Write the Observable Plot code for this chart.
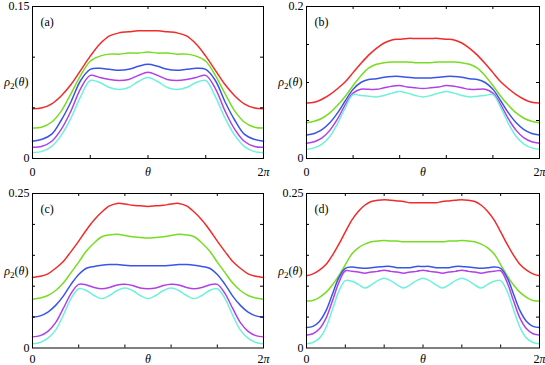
<!DOCTYPE html>
<html><head><meta charset="utf-8">
<script src="https://cdn.jsdelivr.net/npm/d3@7"></script>
<script src="https://cdn.jsdelivr.net/npm/@observablehq/plot@0.6"></script>
<style>
body{margin:0;background:#fff;}
#chart{position:relative;width:545px;height:365px;background:#fff;}
#chart svg{position:absolute;}
</style></head><body><div id="chart"></div>
<script>
const seriesNames = ["curve 1","curve 2","curve 3","curve 4","curve 5"];
const seriesColors = ["#f22a2a","#77dd22","#3a55e6","#b040e8","#6ff0dc"];

// Panel (a): theta from 0 to 2π, 25 samples
const a_red = [0.049,0.050,0.054,0.062,0.073,0.087,0.101,0.113,0.121,0.124,0.125,0.126,0.126,0.126,0.125,0.124,0.121,0.113,0.101,0.087,0.073,0.062,0.054,0.050,0.049];
const a_green = [0.030,0.031,0.036,0.047,0.064,0.082,0.096,0.101,0.103,0.103,0.104,0.104,0.105,0.104,0.104,0.103,0.103,0.101,0.096,0.082,0.064,0.047,0.036,0.031,0.030];
const a_blue = [0.017,0.019,0.024,0.038,0.056,0.077,0.088,0.089,0.088,0.087,0.088,0.091,0.093,0.091,0.088,0.087,0.088,0.089,0.088,0.077,0.056,0.038,0.024,0.019,0.017];
const a_magenta = [0.011,0.012,0.017,0.029,0.047,0.069,0.082,0.080,0.078,0.077,0.078,0.082,0.085,0.082,0.078,0.077,0.078,0.080,0.082,0.069,0.047,0.029,0.017,0.012,0.011];
const a_cyan = [0.006,0.007,0.012,0.023,0.040,0.061,0.077,0.075,0.070,0.068,0.070,0.076,0.080,0.076,0.070,0.068,0.070,0.075,0.077,0.061,0.040,0.023,0.012,0.007,0.006];

// Panel (b): 31 samples
const b_red = [0.073,0.074,0.078,0.084,0.092,0.101,0.113,0.125,0.136,0.145,0.152,0.156,0.157,0.158,0.158,0.158,0.158,0.158,0.157,0.156,0.152,0.145,0.136,0.125,0.113,0.101,0.092,0.084,0.078,0.074,0.073];
const b_green = [0.047,0.049,0.053,0.060,0.070,0.082,0.096,0.109,0.119,0.124,0.126,0.127,0.127,0.127,0.126,0.126,0.126,0.127,0.127,0.127,0.126,0.124,0.119,0.109,0.096,0.082,0.070,0.060,0.053,0.049,0.047];
const b_blue = [0.031,0.033,0.038,0.047,0.060,0.076,0.091,0.100,0.104,0.105,0.107,0.108,0.108,0.107,0.106,0.106,0.106,0.107,0.108,0.108,0.107,0.105,0.104,0.100,0.091,0.076,0.060,0.047,0.038,0.033,0.031];
const b_magenta = [0.020,0.022,0.027,0.037,0.052,0.071,0.086,0.091,0.091,0.091,0.093,0.095,0.096,0.094,0.093,0.092,0.093,0.094,0.096,0.095,0.093,0.091,0.091,0.091,0.086,0.071,0.052,0.037,0.027,0.022,0.020];
const b_cyan = [0.012,0.014,0.019,0.029,0.046,0.067,0.084,0.083,0.082,0.081,0.083,0.086,0.088,0.086,0.083,0.081,0.083,0.086,0.088,0.086,0.083,0.081,0.082,0.083,0.084,0.067,0.046,0.029,0.019,0.014,0.012];

// Panel (c): 31 samples
const c_red = [0.114,0.116,0.120,0.129,0.140,0.156,0.173,0.191,0.207,0.220,0.230,0.234,0.233,0.231,0.230,0.229,0.230,0.231,0.233,0.234,0.230,0.220,0.207,0.191,0.173,0.156,0.140,0.129,0.120,0.116,0.114];
const c_green = [0.079,0.081,0.085,0.093,0.105,0.122,0.139,0.157,0.170,0.180,0.183,0.184,0.182,0.180,0.179,0.178,0.179,0.180,0.182,0.184,0.183,0.180,0.170,0.157,0.139,0.122,0.105,0.093,0.085,0.081,0.079];
const c_blue = [0.050,0.052,0.058,0.069,0.084,0.103,0.119,0.129,0.132,0.134,0.135,0.135,0.134,0.133,0.133,0.133,0.133,0.133,0.134,0.135,0.135,0.134,0.132,0.129,0.119,0.103,0.084,0.069,0.058,0.052,0.050];
const c_magenta = [0.018,0.020,0.027,0.041,0.064,0.088,0.103,0.102,0.098,0.096,0.098,0.102,0.103,0.101,0.097,0.096,0.097,0.101,0.103,0.102,0.098,0.096,0.098,0.102,0.103,0.088,0.064,0.041,0.027,0.020,0.018];
const c_cyan = [0.007,0.009,0.016,0.029,0.053,0.080,0.096,0.093,0.085,0.080,0.085,0.093,0.097,0.093,0.085,0.080,0.085,0.093,0.097,0.093,0.085,0.080,0.085,0.093,0.096,0.080,0.053,0.029,0.016,0.009,0.007];

// Panel (d): 37 samples
const d_red = [0.117,0.120,0.126,0.135,0.150,0.168,0.188,0.207,0.221,0.231,0.237,0.239,0.240,0.239,0.238,0.237,0.235,0.235,0.235,0.235,0.235,0.237,0.238,0.239,0.240,0.239,0.237,0.231,0.221,0.207,0.188,0.168,0.150,0.135,0.126,0.120,0.117];
const d_green = [0.076,0.077,0.082,0.090,0.102,0.117,0.135,0.152,0.162,0.168,0.172,0.173,0.174,0.173,0.173,0.172,0.172,0.172,0.172,0.172,0.172,0.172,0.173,0.173,0.174,0.173,0.172,0.168,0.162,0.152,0.135,0.117,0.102,0.090,0.082,0.077,0.076];
const d_blue = [0.033,0.035,0.043,0.060,0.087,0.114,0.129,0.131,0.130,0.129,0.130,0.131,0.132,0.132,0.130,0.130,0.130,0.132,0.132,0.132,0.130,0.130,0.130,0.132,0.132,0.131,0.130,0.129,0.130,0.131,0.129,0.114,0.087,0.060,0.043,0.035,0.033];
const d_magenta = [0.021,0.023,0.031,0.048,0.076,0.106,0.125,0.124,0.123,0.121,0.123,0.124,0.126,0.124,0.123,0.121,0.123,0.124,0.126,0.124,0.123,0.121,0.123,0.124,0.126,0.124,0.123,0.121,0.123,0.124,0.125,0.106,0.076,0.048,0.031,0.023,0.021];
const d_cyan = [0.007,0.009,0.016,0.033,0.062,0.092,0.109,0.108,0.103,0.097,0.102,0.109,0.113,0.109,0.102,0.097,0.102,0.109,0.113,0.109,0.102,0.097,0.102,0.109,0.113,0.109,0.102,0.097,0.103,0.108,0.109,0.092,0.062,0.033,0.016,0.009,0.007];

// Tick labels and tick positions
const panelLabels = ["(a)","(b)","(c)","(d)"];
const yTitle = "ρ2(θ)";
const xTickLabels = ["0","θ","2π"];
const xTickLabelPos = [0, Math.PI, 2*Math.PI];
const yMaxes = [0.15, 0.2, 0.25, 0.25];
const yTickLabels = [["0","0.15"],["0","0.2"],["0","0.25"],["0","0.25"]];
const yInnerTicks = [[0.05,0.1],[0.05,0.1,0.15],[0.05,0.1,0.15,0.2],[0.05,0.1,0.15,0.2]];
const xDivisions = [4, 5, 5, 6];

const panelSeries = [
  [a_red,a_green,a_blue,a_magenta,a_cyan],
  [b_red,b_green,b_blue,b_magenta,b_cyan],
  [c_red,c_green,c_blue,c_magenta,c_cyan],
  [d_red,d_green,d_blue,d_magenta,d_cyan]
];

const layout = [
  {left:0, top:0, width:272, height:180, ml:32, mr:9, mt:6, mb:22, pad:9},
  {left:272, top:0, width:273, height:180, ml:34, mr:6, mt:6, mb:22, pad:9},
  {left:0, top:180, width:272, height:185, ml:32, mr:9, mt:13, mb:17.5, pad:6.5},
  {left:272, top:180, width:273, height:185, ml:34, mr:6, mt:13, mb:17.5, pad:6.5}
];

const chart = document.getElementById("chart");

panelSeries.forEach((series, p) => {
  const L = layout[p];
  const H = L.height - L.mt - L.mb;
  const W = L.width - L.ml - L.mr;
  const data = [];
  series.forEach((vals, si) => vals.forEach((v, i) => data.push({theta: i * 2 * Math.PI / (vals.length - 1), v, s: seriesNames[si]})));
  const n = xDivisions[p];
  const xInner = d3.range(1, n).map(k => k * 2 * Math.PI / n);
  const yLab = yTickLabels[p].map(Number);
  const svg = Plot.plot({
    width: L.width, height: L.height,
    marginLeft: L.ml, marginRight: L.mr, marginTop: L.mt, marginBottom: L.mb,
    style: {fontFamily: "'Liberation Serif', serif", fontSize: "12px", background: "transparent", overflow: "visible", color: "#000"},
    x: {domain: [0, 2*Math.PI], label: null},
    y: {domain: [0, yMaxes[p]], label: null},
    color: {type: "ordinal", domain: seriesNames, range: seriesColors},
    marks: [
      Plot.line(data, {x: "theta", y: "v", z: "s", stroke: "s", strokeWidth: 1.5, curve: "catmull-rom"}),
      Plot.tickX(xInner, {x: d => d, insetTop: H - 3, stroke: "#000"}),
      Plot.tickX(xInner, {x: d => d, insetBottom: H - 3, stroke: "#000"}),
      Plot.tickY(yInnerTicks[p], {y: d => d, insetRight: W - 3, stroke: "#000"}),
      Plot.tickY(yInnerTicks[p], {y: d => d, insetLeft: W - 3, stroke: "#000"}),
      Plot.frame({stroke: "#000"}),
      Plot.axisX(xTickLabelPos, {tickSize: 0, tickPadding: L.pad, tickFormat: d => xTickLabels[xTickLabelPos.indexOf(d)], label: null, fontSize: 12}),
      Plot.axisY(yLab, {tickSize: 0, tickPadding: 3, tickFormat: d => yTickLabels[p][yLab.indexOf(d)], label: null, fontSize: 12}),
      Plot.text([panelLabels[p]], {frameAnchor: "top-left", dx: 8, dy: 16, lineAnchor: "middle", textAnchor: "start", text: d => d, fontSize: 12, fill: "#000"}),
      Plot.text([yTitle], {frameAnchor: "left", dx: -4, lineAnchor: "middle", textAnchor: "end", text: d => d, fontSize: 12, fill: "#000"})
    ]
  });
  svg.style.left = L.left + "px";
  svg.style.top = L.top + "px";
  d3.select(svg).selectAll("text").each(function() {
    const t = this.textContent;
    const s = d3.select(this);
    if (t === "θ") s.style("font-style", "italic");
    else if (t === "2π") { s.text(null); s.append("tspan").text("2"); s.append("tspan").attr("font-style", "italic").text("π"); }
    else if (t === yTitle) {
      s.text(null);
      s.append("tspan").attr("font-style", "italic").text("ρ");
      s.append("tspan").attr("font-size", 9).attr("dy", 3).text("2");
      s.append("tspan").attr("dy", -3).text("(");
      s.append("tspan").attr("font-style", "italic").text("θ");
      s.append("tspan").text(")");
    }
  });
  chart.appendChild(svg);
});
</script></body></html>
